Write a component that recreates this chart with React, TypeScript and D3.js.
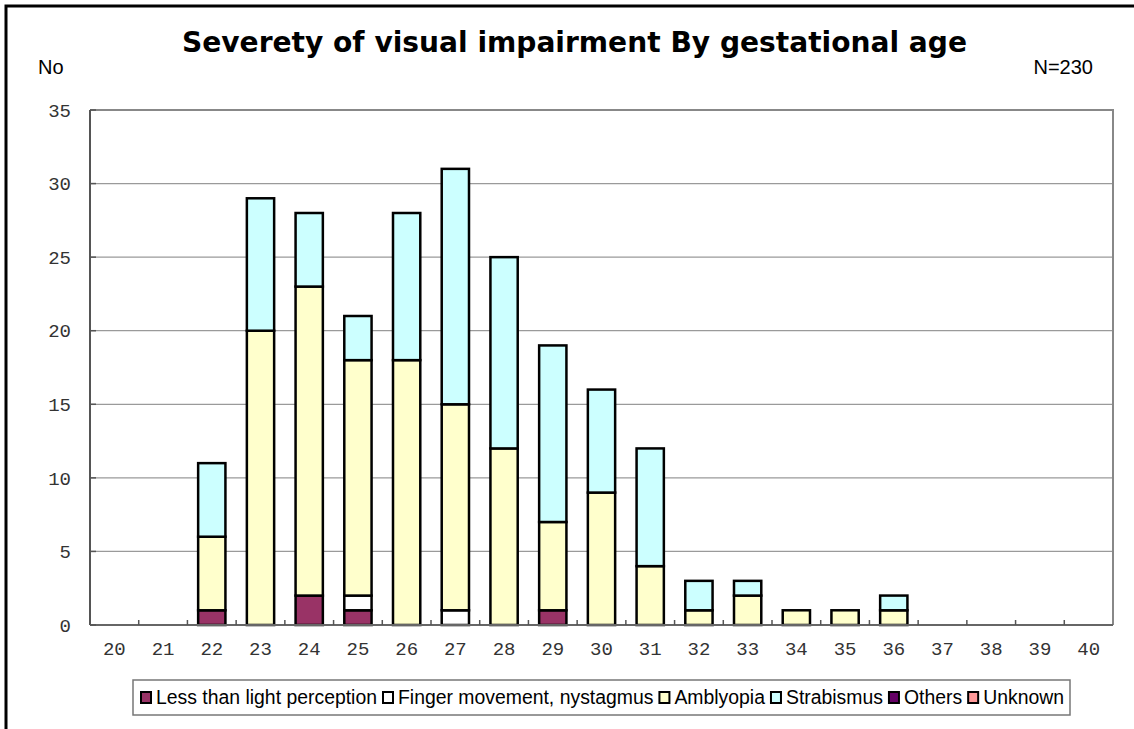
import React, { useEffect, useRef } from "react";
import * as d3 from "d3";

const ages = ["20","21","22","23","24","25","26","27","28","29","30","31","32","33","34","35","36","37","38","39","40"];
const lessThanLight = [0,0,1,0,2,1,0,0,0,1,0,0,0,0,0,0,0,0,0,0,0];
const fingerMovement = [0,0,0,0,0,1,0,1,0,0,0,0,0,0,0,0,0,0,0,0,0];
const amblyopia = [0,0,5,20,21,16,18,14,12,6,9,4,1,2,1,1,1,0,0,0,0];
const strabismus = [0,0,5,9,5,3,10,16,13,12,7,8,2,1,0,0,1,0,0,0,0];
const others = [0,0,0,0,0,0,0,0,0,0,0,0,0,0,0,0,0,0,0,0,0];
const unknown = [0,0,0,0,0,0,0,0,0,0,0,0,0,0,0,0,0,0,0,0,0];
const seriesNames = ["Less than light perception","Finger movement, nystagmus","Amblyopia","Strabismus","Others","Unknown"];
const seriesColors = ["#993366","#FFFFFF","#FFFFCC","#CCFFFF","#660066","#FF9999"];
const yTicks = [0,5,10,15,20,25,30,35];
const title = "Severety of visual impairment By gestational age";

export default function App() {
  const ref = useRef<SVGSVGElement>(null);
  useEffect(() => {
    const svg = d3.select(ref.current);
    svg.selectAll("*").remove();
    const left = 90, right = 1113, top = 110, bottom = 625;
    const x = d3.scaleBand().domain(ages).range([left, right]).paddingInner(0.44).paddingOuter(0.22);
    const y = d3.scaleLinear().domain([0, 35]).range([bottom, top]);

    // outer frame
    svg.append("rect").attr("x", 6).attr("y", 6).attr("width", 1200).attr("height", 800)
      .attr("fill", "white").attr("stroke", "black").attr("stroke-width", 3);

    // title
    svg.append("text").attr("x", 182).attr("y", 52).attr("font-family", "DejaVu Sans")
      .attr("font-weight", "bold").attr("font-size", 27.5).attr("textLength", 785)
      .attr("lengthAdjust", "spacingAndGlyphs").attr("fill", "black").text(title);
    svg.append("text").attr("x", 38).attr("y", 74).attr("font-family", "Liberation Sans")
      .attr("font-size", 20).attr("fill", "black").text("No");
    svg.append("text").attr("x", 1093).attr("y", 74).attr("text-anchor", "end").attr("font-family", "Liberation Sans")
      .attr("font-size", 20).attr("fill", "black").text("N=230");

    // gridlines
    svg.append("g").selectAll("line").data(yTicks.filter(t => t > 0 && t < 35)).join("line")
      .attr("x1", left).attr("x2", right).attr("y1", d => y(d)).attr("y2", d => y(d))
      .attr("stroke", "#9a9a9a").attr("stroke-width", 1.2);

    // plot frame top/right
    svg.append("path").attr("d", `M${left},${top}H${right}V${bottom}`).attr("fill", "none")
      .attr("stroke", "#888").attr("stroke-width", 2);

    // stacked bars
    const series = [lessThanLight, fingerMovement, amblyopia, strabismus, others, unknown];
    const rows = ages.map((a, i) => {
      const r: any = { age: a };
      series.forEach((s, k) => (r["s" + k] = s[i]));
      return r;
    });
    const stack = d3.stack().keys(series.map((_, k) => "s" + k))(rows);
    const gBars = svg.append("g");
    stack.forEach((layer, k) => {
      gBars.append("g").selectAll("rect").data(layer.filter(d => d[1] - d[0] > 0)).join("rect")
        .attr("x", (d: any) => x(d.data.age)!)
        .attr("width", x.bandwidth())
        .attr("y", d => y(d[1]))
        .attr("height", d => y(d[0]) - y(d[1]))
        .attr("fill", seriesColors[k]).attr("stroke", "black").attr("stroke-width", 2.5);
    });

    // axes
    svg.append("line").attr("x1", left).attr("x2", left).attr("y1", top).attr("y2", bottom)
      .attr("stroke", "#555").attr("stroke-width", 2);
    svg.append("line").attr("x1", left).attr("x2", right).attr("y1", bottom).attr("y2", bottom)
      .attr("stroke", "#666").attr("stroke-width", 2);
    svg.append("g").selectAll("line").data(yTicks).join("line")
      .attr("x1", left).attr("x2", left + 6).attr("y1", d => y(d)).attr("y2", d => y(d))
      .attr("stroke", "#555").attr("stroke-width", 1.5);
    const step = x.step();
    svg.append("g").selectAll("line").data(ages.slice(1)).join("line")
      .attr("x1", d => x(d)! - x.paddingInner() * step / 2).attr("x2", d => x(d)! - x.paddingInner() * step / 2)
      .attr("y1", bottom).attr("y2", bottom - 5).attr("stroke", "#555").attr("stroke-width", 1.5);

    svg.append("g").selectAll("text").data(yTicks).join("text")
      .attr("x", 71).attr("y", d => y(d)).attr("dy", "0.35em").attr("text-anchor", "end")
      .attr("font-family", "Liberation Mono").attr("font-size", 19).attr("fill", "#333")
      .text(d => String(d));
    svg.append("g").selectAll("text").data(ages).join("text")
      .attr("x", d => x(d)! + x.bandwidth() / 2).attr("y", 655).attr("text-anchor", "middle")
      .attr("font-family", "Liberation Mono").attr("font-size", 19).attr("fill", "#333")
      .text(d => d);

    // legend
    const lg = svg.append("g");
    lg.append("rect").attr("x", 133).attr("y", 680).attr("width", 937).attr("height", 35)
      .attr("fill", "white").attr("stroke", "#777").attr("stroke-width", 1.5);
    let cx = 141;
    seriesNames.forEach((name, k) => {
      lg.append("rect").attr("x", cx).attr("y", 692).attr("width", 10).attr("height", 11)
        .attr("fill", seriesColors[k]).attr("stroke", "black").attr("stroke-width", 2);
      const t = lg.append("text").attr("x", cx + 15).attr("y", 704).attr("font-family", "Liberation Sans")
        .attr("font-size", 19.4).attr("fill", "black").text(name);
      const w = (t.node() as SVGTextElement).getComputedTextLength();
      cx = cx + 15 + w + 6;
    });
  }, []);
  return (
    <svg ref={ref} width={1134} height={729} style={{ position: "absolute", left: 0, top: 0, background: "white" }} />
  );
}
